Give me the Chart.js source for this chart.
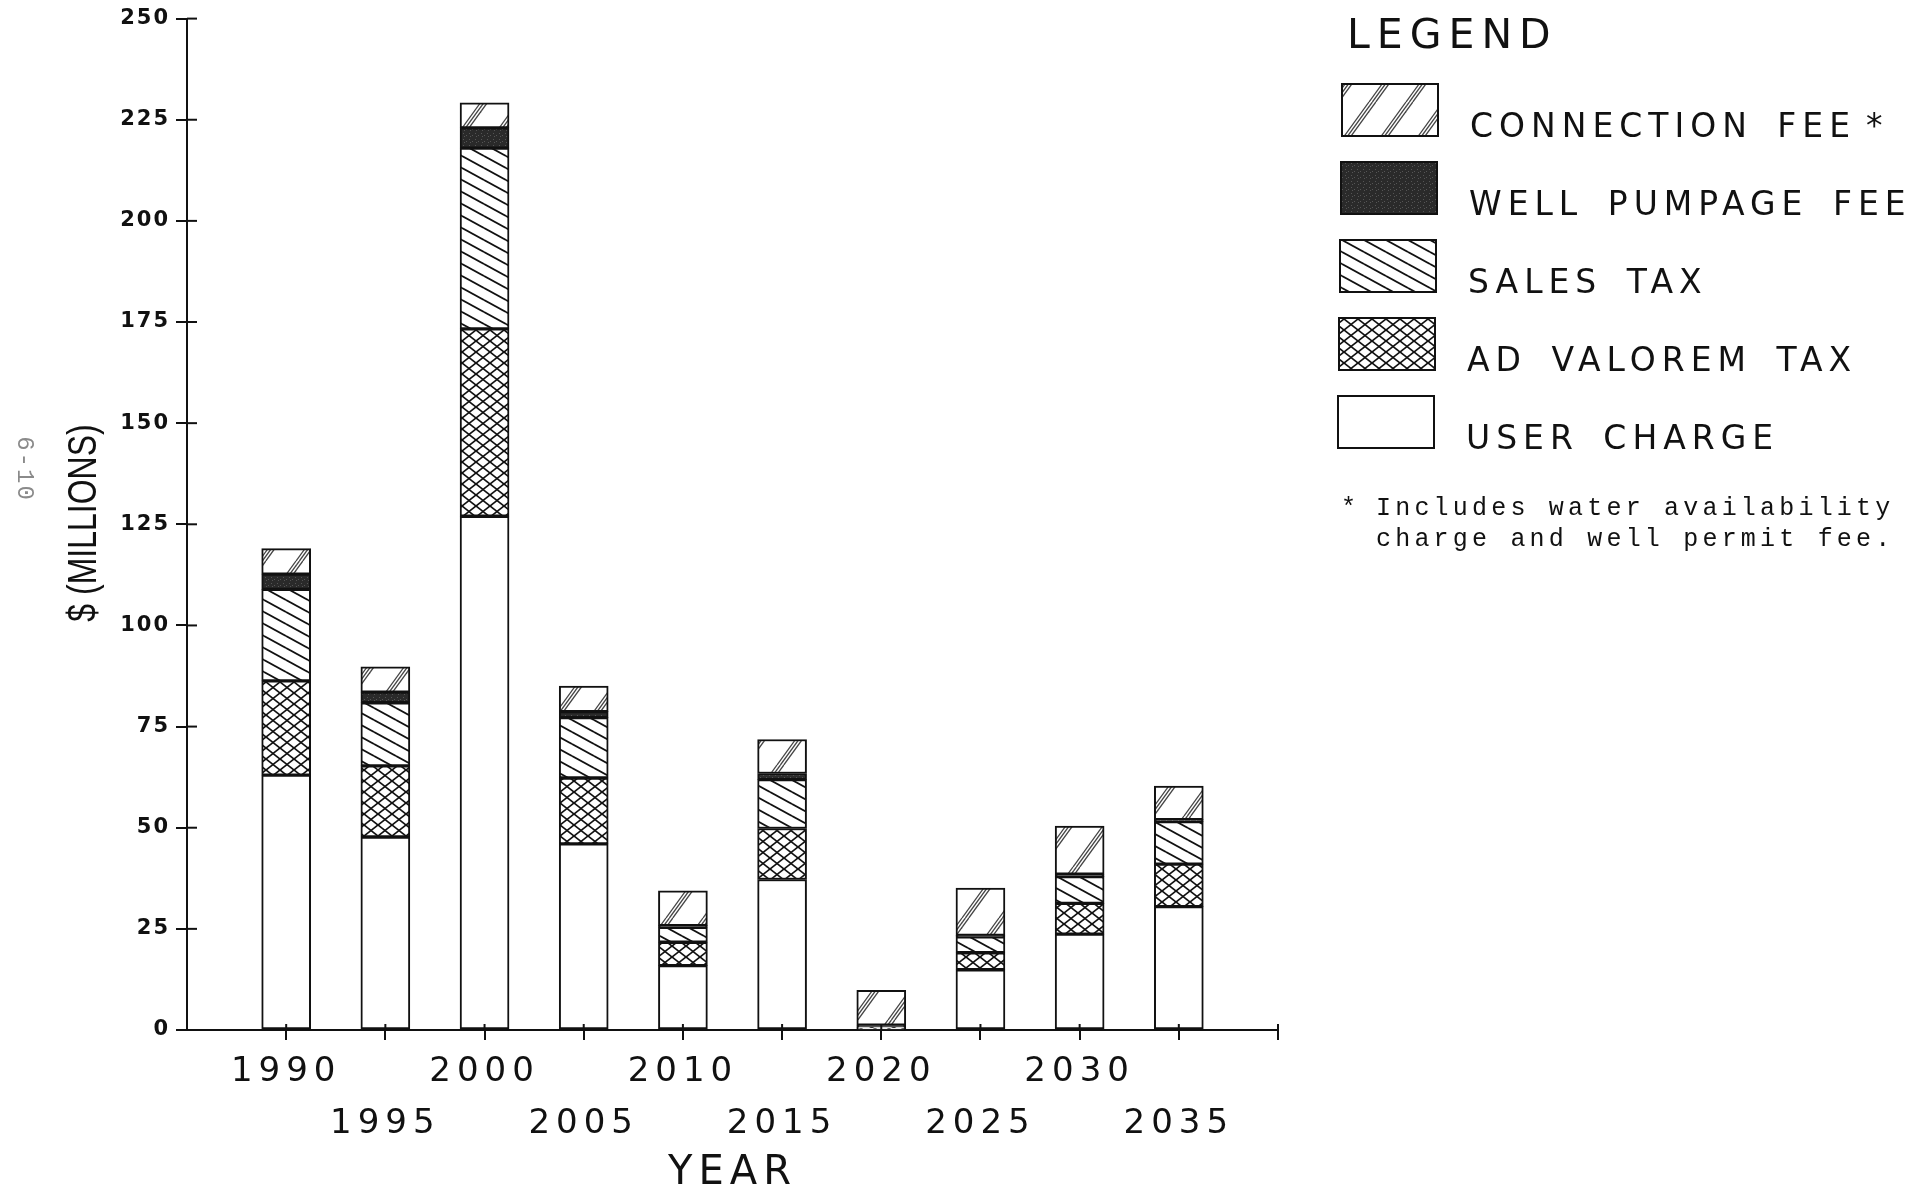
<!DOCTYPE html>
<html>
<head>
<meta charset="utf-8">
<script src="https://cdn.jsdelivr.net/npm/chart.js@4.4.1/dist/chart.umd.min.js"></script>
<style>
  html, body { margin: 0; padding: 0; background: #fff; }
  #wrap { width: 1932px; height: 1194px; }
</style>
</head>
<body>
<div id="wrap"><canvas id="chart"></canvas></div>
<script>
// values, $ millions
const years = [1990, 1995, 2000, 2005, 2010, 2015, 2020, 2025, 2030, 2035];
const userCharge     = [63.0, 47.7, 127.0, 46.0, 15.9, 37.2, 0.3, 14.9, 23.7, 30.5];
const adValoremTax   = [23.3, 17.6,  46.3, 16.3,  5.8, 12.6, 0.2,  4.2,  7.6, 10.5];
const salesTax       = [22.6, 15.6,  44.7, 14.9,  3.7, 12.1, 0.2,  3.9,  6.6, 10.5];
const wellPumpageFee = [ 3.8,  2.6,   5.0,  1.5,  0.4,  1.5, 0.5,  0.4,  0.6,  0.5];
const connectionFee  = [ 6.3,  6.3,   6.2,  6.3,  8.6,  8.4, 8.6, 11.7, 11.9,  8.3];

const yTickValues = [0, 25, 50, 75, 100, 125, 150, 175, 200, 225, 250];
const seriesLabels = ['USER CHARGE', 'AD VALOREM TAX', 'SALES TAX', 'WELL PUMPAGE FEE', 'CONNECTION FEE *'];
const footnote = ['Includes water availability', 'charge and well permit fee.'];

const INK = '#111';
const canvas = document.getElementById('chart');
const ctx = canvas.getContext('2d');

// hatch fills
function tile(w, h, paint) {
  const c = document.createElement('canvas');
  c.width = w; c.height = h;
  const g = c.getContext('2d');
  g.fillStyle = '#fff';
  g.fillRect(0, 0, w, h);
  paint(g, w, h);
  return ctx.createPattern(c, 'repeat');
}

const connPattern = tile(37, 51, (g, w, h) => {
  g.strokeStyle = '#444';
  g.lineWidth = 1.3;
  for (const off of [-w, 0, w]) {
    for (const d of [0, 3.4, 6.8]) {
      g.beginPath(); g.moveTo(off + d, h); g.lineTo(off + d + w, 0); g.stroke();
    }
  }
});

const wellPattern = tile(6, 6, (g) => {
  g.fillStyle = '#2a2a2a';
  g.fillRect(0, 0, 6, 6);
  g.fillStyle = '#555';
  g.fillRect(1, 1, 1, 1); g.fillRect(4, 3, 1, 1); g.fillRect(2, 4, 1, 1);
});

const salesPattern = tile(22, 12, (g, w, h) => {
  g.strokeStyle = INK;
  g.lineWidth = 1.8;
  for (const [ox, oy] of [[0, 0], [0, -h], [0, h], [-w, 0], [w, 0]]) {
    g.beginPath(); g.moveTo(ox, oy); g.lineTo(ox + w, oy + h); g.stroke();
  }
});

const adValPattern = tile(14, 11, (g, w, h) => {
  g.strokeStyle = INK;
  g.lineWidth = 1.7;
  for (const [ox, oy] of [[0, 0], [0, -h], [0, h], [-w, 0], [w, 0]]) {
    g.beginPath(); g.moveTo(ox, oy); g.lineTo(ox + w, oy + h); g.stroke();
    g.beginPath(); g.moveTo(ox, oy + h); g.lineTo(ox + w, oy); g.stroke();
  }
});

const fills = ['#fff', adValPattern, salesPattern, wellPattern, connPattern];
const seriesValues = [userCharge, adValoremTax, salesTax, wellPumpageFee, connectionFee];

const datasets = seriesValues.map((vals, k) => ({
  label: seriesLabels[k],
  data: years.map((x, i) => ({ x, y: vals[i] })),
  backgroundColor: fills[k],
  borderColor: INK,
  borderWidth: 2,
  borderSkipped: false,
  barThickness: 49
}));

// text spacing: x labels wide, y labels tighter (y labels drawn after datasets via z:1)
const spacing = {
  id: 'spacing',
  beforeDraw(chart) { chart.ctx.letterSpacing = '6px'; },
  afterDatasetsDraw(chart) {
    const c = chart.ctx;
    const { x, y } = chart.scales;
    c.save();
    c.strokeStyle = INK;
    c.lineWidth = 2;
    y.ticks.forEach(t => {
      const py = y.getPixelForValue(t.value);
      c.beginPath(); c.moveTo(x.left, py); c.lineTo(x.left + 10, py); c.stroke();
    });
    x.ticks.forEach(t => {
      const px = x.getPixelForValue(t.value);
      c.beginPath(); c.moveTo(px, y.bottom); c.lineTo(px, y.bottom - 6); c.stroke();
    });
    c.restore();
    c.letterSpacing = '2px';
  }
};

const decor = {
  id: 'decor',
  afterDraw(chart) {
    const c = chart.ctx;
    c.save();
    c.fillStyle = INK;

    // y title, condensed
    c.save();
    c.letterSpacing = '0px';
    c.translate(96, 523);
    c.rotate(-Math.PI / 2);
    c.scale(0.8, 1);
    c.font = '40px "Liberation Sans"';
    c.textAlign = 'center';
    c.textBaseline = 'alphabetic';
    c.fillText('$ (MILLIONS)', 0, 0);
    c.restore();

    // page number
    c.save();
    c.letterSpacing = '2px';
    c.translate(24, 469);
    c.rotate(Math.PI / 2);
    c.fillStyle = '#8a8a8a';
    c.font = '24px "Liberation Mono"';
    c.textAlign = 'center';
    c.textBaseline = 'middle';
    c.fillText('6-10', 0, 0);
    c.restore();

    // legend
    c.textAlign = 'left';
    c.textBaseline = 'middle';
    c.letterSpacing = '7px';
    c.font = '41px "DejaVu Sans"';
    c.fillText('LEGEND', 1347, 37);

    c.letterSpacing = '6px';
    c.wordSpacing = '8px';
    c.font = '33px "DejaVu Sans"';
    const order = [4, 3, 2, 1, 0];
    order.forEach((k, i) => {
      const bx = 1342 - i, by = 84 + 78 * i;
      c.fillStyle = fills[k];
      c.fillRect(bx, by, 96, 52);
      c.strokeStyle = INK;
      c.lineWidth = 2;
      c.strokeRect(bx, by, 96, 52);
      c.fillStyle = INK;
      const label = seriesLabels[k];
      const tx = 1470 - i, ty = by + 44;
      if (label.endsWith(' *')) {
        const main = label.slice(0, -2);
        c.fillText(main, tx, ty);
        c.fillText('*', tx + c.measureText(main).width + 10, ty);
      } else {
        c.fillText(label, tx, ty);
      }
    });
    c.wordSpacing = '0px';

    // footnote
    c.font = '25px "Liberation Mono"';
    c.letterSpacing = '4.2px';
    c.fillText('*', 1341, 508);
    c.fillText(footnote[0], 1376, 508);
    c.fillText(footnote[1], 1376, 539);

    c.restore();
    c.letterSpacing = '0px';
  }
};

new Chart(canvas, {
  type: 'bar',
  data: { datasets },
  options: {
    responsive: true,
    maintainAspectRatio: false,
    animation: false,
    layout: { padding: { left: 0, right: 654, top: 18, bottom: 0 } },
    plugins: { legend: { display: false }, tooltip: { enabled: false } },
    scales: {
      x: {
        type: 'linear',
        min: 1985,
        max: 2040,
        offset: false,
        stacked: true,
        afterBuildTicks: s => { s.ticks = [...years, 2040].map(v => ({ value: v })); },
        afterFit: s => { s.height = 164; },
        grid: { offset: false, drawOnChartArea: false, tickLength: 10, lineWidth: 2, color: INK },
        border: { color: INK, width: 2 },
        ticks: {
          autoSkip: false,
          maxRotation: 0,
          padding: 6,
          color: INK,
          font: { family: 'DejaVu Sans', size: 34, lineHeight: 1.53 },
          callback: (v) => {
            const i = years.indexOf(v);
            if (i < 0) return '';
            return i % 2 === 0 ? String(v) : ['', String(v)];
          }
        },
        title: {
          display: true,
          text: 'YEAR',
          color: INK,
          padding: 0,
          font: { family: 'DejaVu Sans', size: 40, lineHeight: 1 }
        }
      },
      y: {
        min: 0,
        max: 250,
        stacked: true,
        afterBuildTicks: s => { s.ticks = yTickValues.map(v => ({ value: v })); },
        afterFit: s => { s.width = 187; },
        grid: { drawOnChartArea: false, tickLength: 11, lineWidth: 2, color: INK },
        border: { color: INK, width: 2 },
        ticks: {
          z: 1,
          padding: 6,
          color: INK,
          font: { family: 'DejaVu Sans', size: 21, weight: 'bold' }
        }
      }
    }
  },
  plugins: [spacing, decor]
});
</script>
</body>
</html>
